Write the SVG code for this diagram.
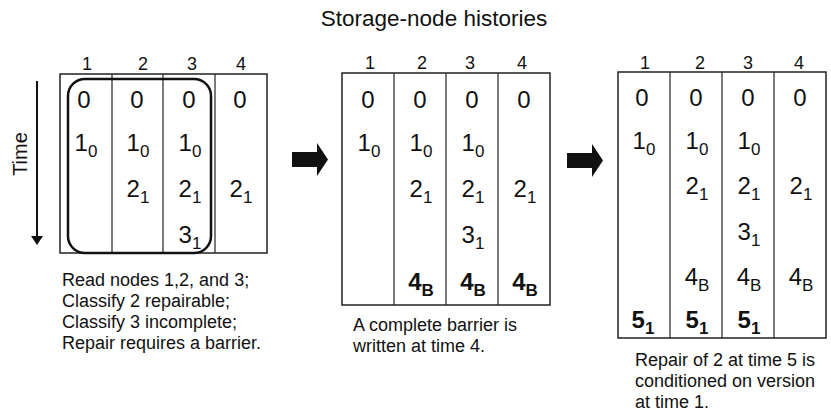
<svg xmlns="http://www.w3.org/2000/svg" width="831" height="419" viewBox="0 0 831 419">
<style>
text{font-family:"Liberation Sans",Arial,sans-serif;fill:#111}
.title{font-size:22.5px}
.lab{font-size:18px;text-anchor:middle}
.v{font-size:24px;text-anchor:middle}
.b{font-weight:bold}
.s{font-size:17px}
.cap{font-size:18px}
.box{fill:none;stroke:#222;stroke-width:1.5}
.div{stroke:#222;stroke-width:1.2}
.blk{fill:#111;stroke:none}
</style>
<rect width="831" height="419" fill="#fff"/>
<text class="title" x="434" y="26" text-anchor="middle">Storage-node histories</text>

<g id="time-axis">
<line x1="37" y1="81" x2="37" y2="238" stroke="#111" stroke-width="2"/>
<polygon class="blk" points="31,236 43,236 37,245"/>
<text x="27" y="154" font-size="20" text-anchor="middle" transform="rotate(-90 27 154)">Time</text>
</g>

<g id="panel1">
<rect class="box" x="60" y="74" width="207" height="179"/>
<line class="div" x1="112" y1="74" x2="112" y2="253"/>
<line class="div" x1="163" y1="74" x2="163" y2="253"/>
<line class="div" x1="215" y1="74" x2="215" y2="253"/>
<text class="lab" x="87" y="70">1</text>
<text class="lab" x="143" y="70">2</text>
<text class="lab" x="192" y="70">3</text>
<text class="lab" x="241" y="70">4</text>
<text class="v" x="84" y="108">0</text>
<text class="v" x="137" y="108">0</text>
<text class="v" x="189" y="108">0</text>
<text class="v" x="240" y="108">0</text>
<text class="v" x="86" y="151">1<tspan class="s" dy="6">0</tspan></text>
<text class="v" x="138" y="151">1<tspan class="s" dy="6">0</tspan></text>
<text class="v" x="190" y="151">1<tspan class="s" dy="6">0</tspan></text>
<text class="v" x="138" y="197">2<tspan class="s" dy="6">1</tspan></text>
<text class="v" x="190" y="197">2<tspan class="s" dy="6">1</tspan></text>
<text class="v" x="241" y="197">2<tspan class="s" dy="6">1</tspan></text>
<text class="v" x="190" y="243">3<tspan class="s" dy="6">1</tspan></text>
<rect x="68" y="79" width="143" height="174" rx="17" fill="none" stroke="#111" stroke-width="2.5"/>
<text class="cap" x="62" y="286">Read nodes 1,2, and 3;</text>
<text class="cap" x="62" y="307">Classify 2 repairable;</text>
<text class="cap" x="62" y="328">Classify 3 incomplete;</text>
<text class="cap" x="62" y="349">Repair requires a barrier.</text>
</g>

<g id="panel2">
<rect class="box" x="342" y="73" width="208" height="232"/>
<line class="div" x1="394" y1="73" x2="394" y2="305"/>
<line class="div" x1="446" y1="73" x2="446" y2="305"/>
<line class="div" x1="498" y1="73" x2="498" y2="305"/>
<text class="lab" x="370" y="69">1</text>
<text class="lab" x="422" y="69">2</text>
<text class="lab" x="470" y="69">3</text>
<text class="lab" x="522" y="69">4</text>
<text class="v" x="368" y="108">0</text>
<text class="v" x="420" y="108">0</text>
<text class="v" x="472" y="108">0</text>
<text class="v" x="524" y="108">0</text>
<text class="v" x="369" y="151">1<tspan class="s" dy="6">0</tspan></text>
<text class="v" x="421" y="151">1<tspan class="s" dy="6">0</tspan></text>
<text class="v" x="473" y="151">1<tspan class="s" dy="6">0</tspan></text>
<text class="v" x="421" y="197">2<tspan class="s" dy="6">1</tspan></text>
<text class="v" x="473" y="197">2<tspan class="s" dy="6">1</tspan></text>
<text class="v" x="525" y="197">2<tspan class="s" dy="6">1</tspan></text>
<text class="v" x="473" y="243">3<tspan class="s" dy="6">1</tspan></text>
<text class="v b" x="421" y="290">4<tspan class="s" dy="6">B</tspan></text>
<text class="v b" x="473" y="290">4<tspan class="s" dy="6">B</tspan></text>
<text class="v b" x="525" y="290">4<tspan class="s" dy="6">B</tspan></text>
<text class="cap" x="353" y="331">A complete barrier is</text>
<text class="cap" x="353" y="352">written at time 4.</text>
</g>

<g id="panel3">
<rect class="box" x="618" y="72" width="208" height="266"/>
<line class="div" x1="670" y1="72" x2="670" y2="338"/>
<line class="div" x1="722" y1="72" x2="722" y2="338"/>
<line class="div" x1="774" y1="72" x2="774" y2="338"/>
<text class="lab" x="645" y="69">1</text>
<text class="lab" x="700" y="69">2</text>
<text class="lab" x="748" y="69">3</text>
<text class="lab" x="799" y="69">4</text>
<text class="v" x="642" y="106">0</text>
<text class="v" x="696" y="106">0</text>
<text class="v" x="748" y="106">0</text>
<text class="v" x="800" y="106">0</text>
<text class="v" x="644" y="149">1<tspan class="s" dy="6">0</tspan></text>
<text class="v" x="697" y="149">1<tspan class="s" dy="6">0</tspan></text>
<text class="v" x="749" y="149">1<tspan class="s" dy="6">0</tspan></text>
<text class="v" x="697" y="194">2<tspan class="s" dy="6">1</tspan></text>
<text class="v" x="749" y="194">2<tspan class="s" dy="6">1</tspan></text>
<text class="v" x="801" y="194">2<tspan class="s" dy="6">1</tspan></text>
<text class="v" x="749" y="240">3<tspan class="s" dy="6">1</tspan></text>
<text class="v" x="697" y="285">4<tspan class="s" dy="6">B</tspan></text>
<text class="v" x="749" y="285">4<tspan class="s" dy="6">B</tspan></text>
<text class="v" x="801" y="285">4<tspan class="s" dy="6">B</tspan></text>
<text class="v b" x="643" y="328">5<tspan class="s" dy="6">1</tspan></text>
<text class="v b" x="697" y="328">5<tspan class="s" dy="6">1</tspan></text>
<text class="v b" x="749" y="328">5<tspan class="s" dy="6">1</tspan></text>
<text class="cap" x="635" y="366">Repair of 2 at time 5 is</text>
<text class="cap" x="635" y="387">conditioned on version</text>
<text class="cap" x="635" y="408">at time 1.</text>
</g>

<g id="connectors">
<polygon class="blk" points="292,152 317,152 317,143 328,159.5 317,176 317,167 292,167"/>
<polygon class="blk" points="567,153 592,153 592,144 603,160.5 592,177 592,168 567,168"/>
</g>
</svg>
